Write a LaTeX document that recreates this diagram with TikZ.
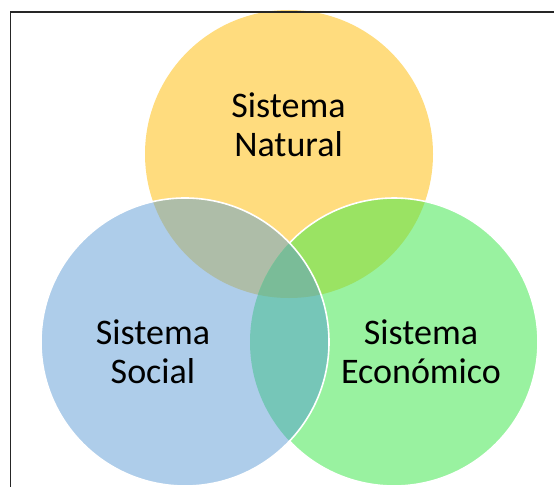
\documentclass[tikz,border=0pt]{standalone}
\usepackage{fontspec}
\setmainfont{Carlito}
\definecolor{natcol}{HTML}{FFDC7E}
\definecolor{soccol}{HTML}{AECDEA}
\definecolor{ecocol}{HTML}{99F2A0}
\definecolor{natsoc}{HTML}{AEBDA8}
\definecolor{nateco}{HTML}{9AE363}
\definecolor{soceco}{HTML}{76C6B8}
\definecolor{allcol}{HTML}{7ABC98}
\tikzset{
  lbl/.style={align=center, inner sep=0pt, font=\fontsize{36}{39.5}\selectfont},
  rim/.style={draw=white, line width=1.6pt}
}

\begin{document}
\begin{tikzpicture}[x=1pt,y=-1pt]
\useasboundingbox (0,0) rectangle (554,487);
\clip (0,0) rectangle (554,487);
\coordinate (cn) at (289,154);
\coordinate (cs) at (185,342);
\coordinate (ce) at (394,342);
% the three sets
\fill[natcol] (cn) circle[radius=144pt];
\fill[ecocol] (ce) circle[radius=144pt];
\fill[soccol] (cs) circle[radius=144pt];
% overlaps
\begin{scope}
\clip (cn) circle[radius=144pt];
\fill[natsoc] (cs) circle[radius=144pt];
\fill[nateco] (ce) circle[radius=144pt];
\end{scope}
\begin{scope}
\clip (cs) circle[radius=144pt];
\fill[soceco] (ce) circle[radius=144pt];
\clip (ce) circle[radius=144pt];
\fill[allcol] (cn) circle[radius=144pt];
\end{scope}
% white rims
\draw[rim] ([shift={(-136.4:144pt)}]ce) arc[start angle=-136.4, end angle=136.4, radius=144pt];
\draw[rim] (cs) circle[radius=144pt];
% frame
\draw[line width=1.5pt, black!85] (10.5,12) rectangle (620,540);
% labels
\node[lbl] (natural) at (288.5,124.5) {Sistema\\Natural};
\node[lbl] (social) at (153,351.5) {Sistema\\Social};
\node[lbl] (economico) at (421,351.5) {Sistema\\Económico};
\end{tikzpicture}
\end{document}
